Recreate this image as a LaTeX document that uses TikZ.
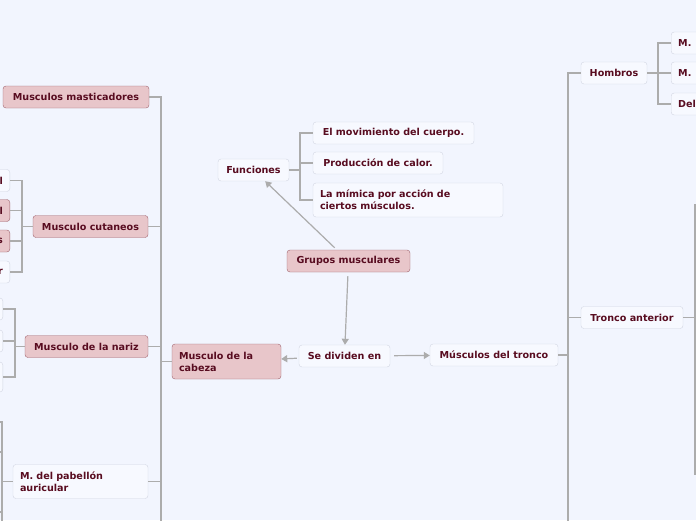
\documentclass[tikz,border=0pt]{standalone}
\usepackage{fontspec}
\setmainfont{DejaVu Sans}
\usetikzlibrary{arrows.meta, positioning, calc}
\definecolor{cBack}{RGB}{242,245,254}
\definecolor{cPink}{RGB}{232,198,202}
\definecolor{cPinkLine}{RGB}{160,100,110}
\definecolor{cText}{RGB}{88,12,32}
\definecolor{cWhite}{RGB}{247,249,255}
\definecolor{cWhiteLine}{RGB}{210,214,226}
\definecolor{cLink}{RGB}{172,172,172}
\tikzset{
	topic/.style={rectangle, rounded corners=3pt, draw=cPinkLine, fill=cPink, text=cText, font=\bfseries\fontsize{9.6}{12}\selectfont, minimum height=22pt, inner xsep=7pt, align=left},
	subtopic/.style={topic, draw=cWhiteLine, fill=cWhite},
	link/.style={draw=cLink, line width=1.6pt},
	% arrows between the main nodes
	linkarrow/.style={draw=cLink, line width=1.2pt, -{Triangle[length=6pt, width=7pt]}},
}
\begin{document}
\begin{tikzpicture}[x=1pt, y=-1pt]
	\clip (0,0) rectangle (696,520);
	\fill[cBack] (0,0) rectangle (696,520);

	\node[topic, minimum width=123pt] (grupos) at (348.5,261) {Grupos musculares};
	\node[subtopic, minimum width=71pt] (func) at (253.5,170) {Funciones};
	\node[subtopic, minimum width=161pt] (mov) at (393.5,133) {El movimiento del cuerpo.};
	\node[subtopic, minimum width=130pt] (calor) at (378,163) {Producción de calor.};
	\node[subtopic, text width=176pt, minimum height=34pt] (mimica) at (408,200) {La mímica por acción de\\ciertos músculos.};
	\node[subtopic, minimum width=91pt] (divid) at (344.5,356) {Se dividen en};
	\node[topic, text width=95pt, minimum height=35pt] (cabeza) at (226.5,361.5) {Musculo de la\\cabeza};
	\node[subtopic, minimum width=128pt] (tronco) at (494,355) {Músculos del tronco};

	\node[topic, minimum width=146pt] (mastic) at (76,97) {Musculos masticadores};
	\node[topic, minimum width=115pt] (cutan) at (90.5,226.5) {Musculo cutaneos};
	\node[topic, minimum width=123pt] (nariz) at (86.5,346.5) {Musculo de la nariz};
	\node[subtopic, text width=121pt, minimum height=34pt] (pabel) at (80.5,481.5) {M. del pabellón\\auricular};
	\node[subtopic, minimum width=66pt] (hombros) at (614,73) {Hombros};
	\node[subtopic, minimum width=102pt] (tanter) at (632,317.5) {Tronco anterior};

	\foreach \y/\t/\s [count=\i] in {180.5/l/subtopic, 210.5/l/topic, 241/s/topic, 272/r/subtopic}
		\node[\s, anchor=east, text width=40pt, align=right] (cut\i) at (10,\y) {\t};
	\foreach \y/\h [count=\i] in {309/22, 341/22, 377/30}
		\node[subtopic, anchor=east, minimum width=40pt, minimum height=\h pt] (nar\i) at (3,\y) {};
	\foreach \y/\t [count=\i] in {43/M., 73/M., 104/Del}
		\node[subtopic, anchor=west, text width=50pt] (hom\i) at (671,\y) {\t};

	\coordinate (lbot) at (161,530);
	\coordinate (rbot) at (568,530);
	\coordinate (pbot) at (2,530);
	\foreach \y [count=\i] in {422,452,512}
		\coordinate (pab\i) at (-8,\y);
	\coordinate (ta1) at (705,205);
	\coordinate (ta2) at (705,474);

	\draw[linkarrow, shorten <=3pt] (grupos) -- (func);
	\draw[linkarrow, shorten <=4pt] (grupos) -- (divid);
	\draw[linkarrow, shorten <=2pt] (divid) -- (cabeza);
	\draw[linkarrow, shorten <=4pt] (divid) -- (tronco);

	\foreach \n in {mov, calor, mimica}
		\draw[link] (func.east) -- ++(11,0) |- (\n.west);
	\foreach \n in {mastic, cutan, nariz, pabel}
		\draw[link] (cabeza.west) -- ++(-11,0) |- (\n.east);
	\draw[link] (cabeza.west) -| (lbot);
	\foreach \i in {1,...,4}
		\draw[link] (cutan.west) -- ++(-11,0) |- (cut\i.east);
	\foreach \i in {1,2,3}
		\draw[link] (nariz.west) -- ++(-10,0) |- (nar\i.east);
	\foreach \i in {1,2,3}
		\draw[link] (pabel.west) -- ++(-11,0) |- (pab\i);
	\draw[link] (pabel.west) -| (pbot);
	\foreach \n in {hombros, tanter}
		\draw[link] (tronco.east) -- ++(10,0) |- (\n.west);
	\draw[link] (tronco.east) -| (rbot);
	\foreach \i in {1,2,3}
		\draw[link] (hombros.east) -- ++(11,0) |- (hom\i.west);
	\foreach \i in {1,2}
		\draw[link] (tanter.east) -- ++(12,0) |- (ta\i);
\end{tikzpicture}
\end{document}
